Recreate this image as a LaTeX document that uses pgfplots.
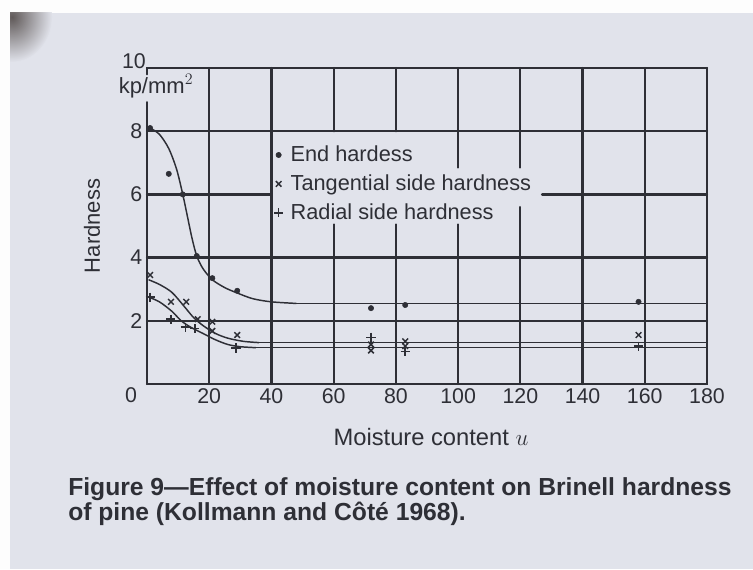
\documentclass[border=0pt]{standalone}
\usepackage{pgfplots}
\pgfplotsset{compat=1.18}
\usepackage{fontspec}
\setmainfont{Liberation Sans}
\definecolor{paper}{HTML}{E1E3EB}
\definecolor{ink}{HTML}{2E2F36}
\definecolor{shadow}{HTML}{4A4240}
\begin{document}
\begin{tikzpicture}[x=0.75pt,y=0.75pt]
\useasboundingbox (0,0) rectangle (753,569);
\fill[white!92!paper] (0,0) rectangle (753,569);
\fill[paper] (10,0) rectangle (753,556);
\begin{scope}
\clip (10,0) rectangle (753,556);
\shade[inner color=shadow, outer color=paper, opacity=0.85] (12,552) ellipse (40 and 45);
\end{scope}
\begin{axis}[
  at={(110.25pt,138.75pt)}, anchor=origin,
  scale only axis, width=420pt, height=237pt,
  xmin=0, xmax=180, ymin=0, ymax=10,
  axis line style={draw=none}, major tick length=0pt,
  xtick={20,40,...,180}, ytick={2,4,6,8},
  ticklabel style={font=\fontsize{16}{19}\selectfont, text=ink},
  /pgf/number format/assume math mode=true,
  clip=false,
  legend style={at={(axis cs:40.3,7.6)}, anchor=north west, draw=none, fill=none,
    font=\fontsize{16.3}{19}\selectfont, text=ink, row sep=5.4pt, inner sep=0pt,
    nodes={inner sep=1.5pt}},
  legend cell align=left,
  legend image code/.code={\path[draw=none,fill=none] (0pt,0pt) -- (12pt,0pt); \draw[#1,mark repeat=1] plot coordinates {(4.5pt,0pt)};},
]
% frame and grid
\begin{scope}[ink, line width=1.7pt, line cap=round]
\draw (0,0) -- (180,0) -- (180,10);
\draw (0,9.8) -- (0,10) -- (180,10);
\draw (0,0) -- (0,8.92);
\draw (0,8) -- (180,8);
\draw (0,6) -- (40,6);
\draw (127,6) -- (180,6);
\draw (0,4) -- (180,4);
\draw (0,2) -- (180,2);
\draw (20,0) -- (20,10);
\draw (40,0) -- (40,10);
\draw (60,0) -- (60,5.05); \draw (60,8) -- (60,10);
\draw (80,0) -- (80,5.05); \draw (80,8) -- (80,10);
\draw (100,0) -- (100,5.05); \draw (100,6.85) -- (100,10);
\draw (120,0) -- (120,5.6); \draw (120,6.85) -- (120,10);
\draw (140,0) -- (140,10);
\draw (160,0) -- (160,10);
\end{scope}
% data points
\addplot[only marks, mark=*, mark size=2pt, ink] coordinates {
 (1,8.1) (7,6.65) (11.5,6.0) (16,4.05) (21,3.35) (29,2.95) (72,2.4) (83,2.5) (158,2.6)};
\addlegendentry{End hardess}
\addplot[only marks, mark=x, mark size=3pt, ink, line width=1.1pt] coordinates {
 (1,3.45) (7.7,2.6) (12.6,2.6) (16.3,2.05) (21,1.97) (21,1.68) (29,1.55)
 (72,1.06) (72,1.25) (83,1.35) (83,1.2) (158,1.55)};
\addlegendentry{Tangential side hardness}
\addplot[only marks, mark=+, mark size=3.4pt, ink, line width=1.1pt] coordinates {
 (1,2.75) (7.7,2.05) (12.3,1.8) (15.4,1.75) (28.6,1.14) (72,1.48) (83,1.03) (158,1.2)};
\addlegendentry{Radial side hardness}
% fitted curves
\addplot[smooth, ink, line width=1.1pt, forget plot] coordinates {
 (1,8.1) (4,7.9) (7,7.45) (9.5,6.8) (11.5,6.0) (13,5.3) (14.5,4.6) (16,4.05)
 (18,3.65) (21,3.3) (25,3.05) (29,2.88) (34,2.7) (40,2.6) (48,2.55)};
\addplot[ink, line width=1.3pt, forget plot] coordinates {(48,2.55) (180,2.55)};
\addplot[smooth, ink, line width=1.1pt, forget plot] coordinates {
 (0.5,3.3) (4,3.15) (8,2.9) (12,2.45) (15,2.1) (18,1.85) (22,1.6) (26,1.45) (31,1.35) (36,1.31)};
\addplot[ink, line width=1.2pt, forget plot] coordinates {(36,1.31) (180,1.31)};
\addplot[smooth, ink, line width=1.1pt, forget plot] coordinates {
 (0.5,2.75) (4,2.6) (8,2.3) (11,2.0) (14,1.8) (18,1.6) (22,1.4) (26,1.25) (30,1.18) (35,1.15)};
\addplot[ink, line width=1.2pt, forget plot] coordinates {(35,1.15) (180,1.15)};
\end{axis}
\node[ink, font=\fontsize{16}{19}\selectfont] at (131,174) {0};
\node[ink, font=\fontsize{16}{19}\selectfont] at (134,508) {10};
\node[ink, font=\fontsize{16.5}{19}\selectfont] at (156,483) {kp/mm$^2$};
\node[ink, font=\fontsize{16.5}{19}\selectfont, rotate=90] at (92,343) {Hardness};
\node[ink, font=\fontsize{17.8}{19}\selectfont] at (431,132) {Moisture content $u$};
\node[ink, font=\bfseries\fontsize{18.5}{18.9}\selectfont, anchor=north west, align=left, inner sep=0pt] at (68,92) {Figure 9---Effect of moisture content on Brinell hardness\\of pine (Kollmann and Côté 1968).};
\end{tikzpicture}
\end{document}
